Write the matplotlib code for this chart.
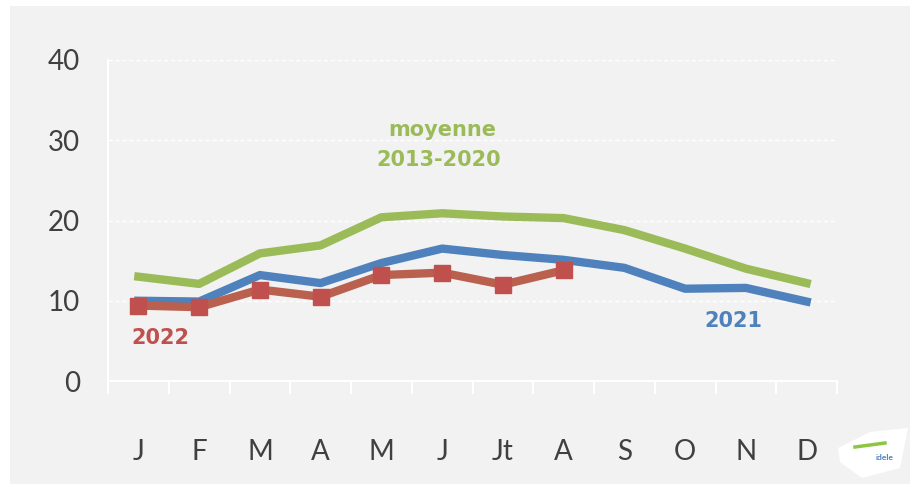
import matplotlib
matplotlib.use("Agg")
import matplotlib.pyplot as plt
from matplotlib.patches import Rectangle, Polygon
import numpy as np

months = ["J", "F", "M", "A", "M", "J", "Jt", "A", "S", "O", "N", "D"]
moyenne = [13.0, 12.1, 15.9, 16.9, 20.4, 20.9, 20.5, 20.3, 18.8, 16.5, 14.0, 12.2]
y2021 = [10.0, 9.9, 13.2, 12.2, 14.7, 16.5, 15.7, 15.1, 14.1, 11.5, 11.6, 9.9]
y2022 = [9.4, 9.2, 11.4, 10.5, 13.2, 13.5, 12.0, 13.8]
yticks = [0, 10, 20, 30, 40]

GREEN = "#9bbb59"
BLUE = "#4f81bd"
RED = "#c0504d"
RED_LINE = "#b9604f"
BG = "#f2f2f2"
TXT = "#404040"

plt.rcParams['font.family'] = ['Lato', 'DejaVu Sans']

fig = plt.figure(figsize=(9.14, 4.84), dpi=100)
fig.patch.set_facecolor("white")
fig.patches.append(Rectangle((10/914, 0), 900/914, 1 - 6/484, transform=fig.transFigure,
                             facecolor=BG, edgecolor="none", zorder=-10))

ax = fig.add_axes([108/914, 1 - 381/484, (837-108)/914, (381-60)/484])
ax.set_facecolor(BG)
ax.set_zorder(1)

x = np.arange(len(months))
ax.plot(x, moyenne, color=GREEN, lw=6, solid_joinstyle="round", zorder=3)
ax.plot(x, y2021, color=BLUE, lw=6, solid_joinstyle="round", zorder=4)
x22 = np.arange(len(y2022))
ax.plot(x22, y2022, color=RED_LINE, lw=6, zorder=5)
ax.plot(x22, y2022, ls="none", marker="s", ms=11, color=RED, mec=RED, zorder=6)

ax.set_xlim(-0.5, 11.5)
ax.set_ylim(0, 40)
ax.set_yticks(yticks)
ax.set_yticklabels([str(v) for v in yticks], fontsize=20, color=TXT)
ax.tick_params(axis="y", length=0, pad=20)
ax.yaxis.grid(True, color="white", ls=(0, (3, 2)), lw=1)
ax.set_axisbelow(True)

ax.set_xticks(x)
ax.set_xticklabels(months, fontsize=20, color=TXT)
ax.set_xticks(np.arange(-0.5, 12, 1), minor=True)
ax.tick_params(axis="x", which="major", length=0, pad=42)
ax.tick_params(axis="x", which="minor", length=9, width=1.5, color="white", direction="out")

for s in ["top", "right"]:
    ax.spines[s].set_visible(False)
ax.spines["left"].set_color("white")
ax.spines["left"].set_linewidth(1.5)
ax.spines["left"].set_bounds(-1.5, 40)
ax.spines["bottom"].set_color("white")
ax.spines["bottom"].set_linewidth(1.5)
ax.spines["left"].set_clip_on(False)

lab = dict(fontsize=15, fontweight="bold", ha="center", va="center", family=["DejaVu Sans"])
ax.text(5.0, 31.3, "moyenne", color=GREEN, **lab)
ax.text(4.95, 27.6, "2013-2020", color=GREEN, **lab)
ax.text(0.37, 5.3, "2022", color=RED, **lab)
ax.text(9.8, 7.5, "2021", color=BLUE, **lab)

# small logo
logo = Polygon([(838/914, 1-448/484), (870/914, 1-432/484), (908/914, 1-428/484),
                (900/914, 1-468/484), (862/914, 1-478/484), (840/914, 1-462/484)],
               closed=True, transform=fig.transFigure, facecolor="white", edgecolor="none", zorder=1)
fig.patches.append(logo)
fig.text(885/914, 1-457/484, "idele", color=BLUE, fontsize=6, fontweight="bold", ha="center", va="center")
fig.lines.append(plt.Line2D([855/914, 885/914], [1-447/484, 1-443/484], transform=fig.transFigure,
                            color="#8dc63f", lw=2.5))

fig.savefig("out.png", dpi=100, facecolor=fig.get_facecolor())
